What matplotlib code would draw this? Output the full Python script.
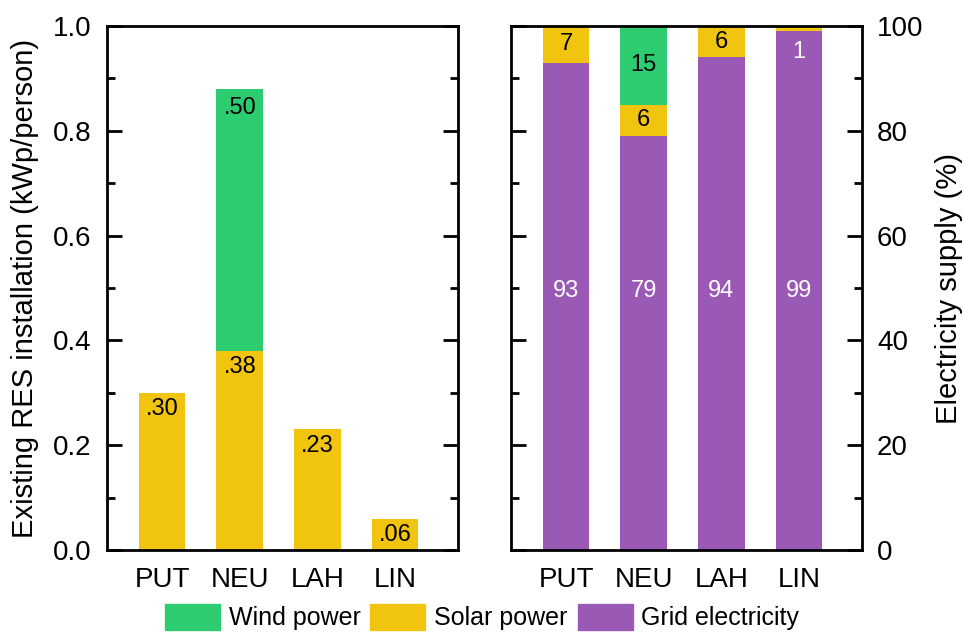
import numpy as np
import matplotlib.pyplot as plt
from matplotlib.ticker import MultipleLocator

plt.rcParams["font.family"] = ["Liberation Sans", "DejaVu Sans"]

sites = ["PUT", "NEU", "LAH", "LIN"]

# installed capacity per person (kWp)
solar_kwp = [0.30, 0.38, 0.23, 0.06]
wind_kwp = [0.0, 0.50, 0.0, 0.0]

# share of electricity supply (%)
grid_pct = [93, 79, 94, 99]
solar_pct = [7, 6, 6, 1]
wind_pct = [0, 15, 0, 0]

GREEN = "#2ecc71"
YELLOW = "#f1c40f"
PURPLE = "#9b59b6"

x = np.arange(len(sites))
width = 0.6

fig = plt.figure(figsize=(9.64, 6.37), dpi=100)
ax1 = fig.add_axes([0.111, 0.1366, 0.364, 0.8225])
ax2 = fig.add_axes([0.530, 0.1366, 0.364, 0.8225])

# left: installed capacity
ax1.bar(x, solar_kwp, width, color=YELLOW, label="Solar power")
ax1.bar(x, wind_kwp, width, bottom=solar_kwp, color=GREEN, label="Wind power")
for i in range(len(sites)):
    ax1.annotate(f"{solar_kwp[i]:.2f}".lstrip("0"), (x[i], solar_kwp[i]),
                 xytext=(0, -4), textcoords="offset points",
                 ha="center", va="top", fontsize=17)
    if wind_kwp[i] > 0:
        top = solar_kwp[i] + wind_kwp[i]
        ax1.annotate(f"{wind_kwp[i]:.2f}".lstrip("0"), (x[i], top),
                     xytext=(0, -6), textcoords="offset points",
                     ha="center", va="top", fontsize=17)

ax1.set_ylim(0, 1.0)
ax1.yaxis.set_major_locator(MultipleLocator(0.2))
ax1.yaxis.set_minor_locator(MultipleLocator(0.1))
ax1.yaxis.set_major_formatter(plt.FormatStrFormatter("%.1f"))
ax1.set_ylabel("Existing RES installation (kWp/person)", fontsize=21, labelpad=10)

# right: supply shares
ax2.bar(x, grid_pct, width, color=PURPLE, label="Grid electricity")
ax2.bar(x, solar_pct, width, bottom=grid_pct, color=YELLOW)
ax2.bar(x, wind_pct, width, bottom=np.add(grid_pct, solar_pct), color=GREEN)
for i in range(len(sites)):
    ax2.text(x[i], 49.5, str(grid_pct[i]), ha="center", va="center",
             fontsize=17, color="white")
    if solar_pct[i] >= 5:
        ax2.text(x[i], grid_pct[i] + solar_pct[i] / 2, str(solar_pct[i]),
                 ha="center", va="center", fontsize=17)
    else:
        ax2.text(x[i], 95, str(solar_pct[i]), ha="center", va="center",
                 fontsize=17, color="white")
    if wind_pct[i] > 0:
        ax2.text(x[i], grid_pct[i] + solar_pct[i] + wind_pct[i] / 2,
                 str(wind_pct[i]), ha="center", va="center", fontsize=17)

ax2.set_ylim(0, 100)
ax2.yaxis.set_major_locator(MultipleLocator(20))
ax2.yaxis.set_minor_locator(MultipleLocator(10))
ax2.yaxis.tick_right()
ax2.yaxis.set_label_position("right")
ax2.set_ylabel("Electricity supply (%)", fontsize=21, labelpad=8)

for ax in (ax1, ax2):
    ax.set_xlim(-0.71, 3.81)
    ax.set_xticks(x)
    ax.set_xticklabels(sites)
    ax.tick_params(axis="x", length=0, pad=12, labelsize=20)
    ax.tick_params(axis="y", which="both", direction="in", left=True,
                   right=True, width=2, labelsize=20, pad=11)
    ax.tick_params(axis="y", which="major", length=11)
    ax.tick_params(axis="y", which="minor", length=6)
    for s in ax.spines.values():
        s.set_linewidth(2)

handles = [plt.Rectangle((0, 0), 1, 1, color=c) for c in (GREEN, YELLOW, PURPLE)]
fig.legend(handles, ["Wind power", "Solar power", "Grid electricity"],
           loc="lower center", bbox_to_anchor=(0.5, -0.025), ncol=3,
           frameon=False, fontsize=18, handlelength=2.2, handleheight=1.2,
           handletextpad=0.35, columnspacing=0.4)

fig.savefig("out.png", dpi=100)
